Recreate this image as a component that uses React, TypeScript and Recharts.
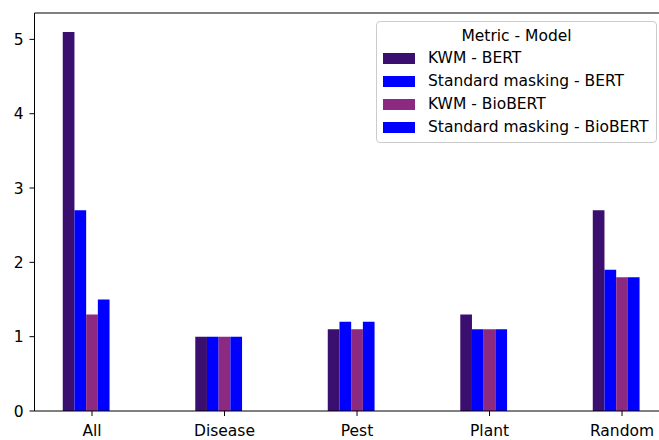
import React from 'react';
import { BarChart, Bar, XAxis, YAxis, ReferenceLine, Legend } from 'recharts';

const categories = ['All', 'Disease', 'Pest', 'Plant', 'Random'];
const kwmBert = [5.1, 1.0, 1.1, 1.3, 2.7];
const stdBert = [2.7, 1.0, 1.2, 1.1, 1.9];
const kwmBioBert = [1.3, 1.0, 1.1, 1.1, 1.8];
const stdBioBert = [1.5, 1.0, 1.2, 1.1, 1.8];
const seriesNames = ['KWM - BERT', 'Standard masking - BERT', 'KWM - BioBERT', 'Standard masking - BioBERT'];
const seriesColors = ['#3b0f70', '#0000ff', '#8c2981', '#0000ff'];
const yTicks = [0, 1, 2, 3, 4, 5];
const xTicks = [0, 1, 2, 3, 4];
const legendTitle = 'Metric - Model';

const data = categories.map((c, i) => ({
  x: i,
  name: c,
  s0: kwmBert[i],
  s1: stdBert[i],
  s2: kwmBioBert[i],
  s3: stdBioBert[i],
}));

const FONT = 'DejaVu Sans, sans-serif';
const FS = 15.5;

const LegendBox = () => (
  <div
    style={{
      position: 'relative',
      width: 281,
      height: 122,
      border: '1px solid #cccccc',
      borderRadius: 4,
      background: 'rgba(255,255,255,0.8)',
      boxSizing: 'border-box',
      fontFamily: FONT,
      fontSize: FS,
      color: '#000',
    }}
  >
    <div style={{ position: 'absolute', left: 0, right: 0, top: 4, height: 20, lineHeight: '20px', textAlign: 'center' }}>
      {legendTitle}
    </div>
    {seriesNames.map((n, i) => (
      <div key={n} style={{ position: 'absolute', left: 0, top: 26 + i * 23, height: 20, width: '100%' }}>
        <div style={{ position: 'absolute', left: 6, top: 4.5, width: 32, height: 11, background: seriesColors[i] }} />
        <div style={{ position: 'absolute', left: 51, top: 0, height: 20, lineHeight: '20px', whiteSpace: 'nowrap' }}>{n}</div>
      </div>
    ))}
  </div>
);

export default function App() {
  return (
    <div style={{ position: 'absolute', left: 0, top: 0, width: 659, height: 440, background: '#fff' }}>
      <BarChart
        width={659}
        height={440}
        data={data}
        margin={{ top: 13, right: 0, bottom: 0, left: 0 }}
        barGap={0}
        barSize={11.7}
      >
        <XAxis
          type="number"
          dataKey="x"
          domain={[-0.434, 4.279]}
          ticks={xTicks}
          interval={0}
          allowDataOverflow
          tickFormatter={(v: number) => categories[v]}
          height={29}
          tickSize={5}
          tickMargin={9}
          stroke="#000"
          tick={{ fill: '#000', fontFamily: FONT, fontSize: FS }}
          tickLine={{ stroke: '#000' }}
          axisLine={{ stroke: '#000' }}
        />
        <YAxis
          type="number"
          domain={[0, 5.355]}
          ticks={yTicks}
          allowDataOverflow
          width={34.5}
          tickSize={5}
          tickMargin={6}
          stroke="#000"
          tick={{ fill: '#000', fontFamily: FONT, fontSize: FS }}
          tickLine={{ stroke: '#000' }}
          axisLine={{ stroke: '#000' }}
        />
        <ReferenceLine y={5.355} stroke="#000" strokeWidth={1} ifOverflow="visible" />
        <Bar dataKey="s0" name={seriesNames[0]} fill={seriesColors[0]} isAnimationActive={false} />
        <Bar dataKey="s1" name={seriesNames[1]} fill={seriesColors[1]} isAnimationActive={false} />
        <Bar dataKey="s2" name={seriesNames[2]} fill={seriesColors[2]} isAnimationActive={false} />
        <Bar dataKey="s3" name={seriesNames[3]} fill={seriesColors[3]} isAnimationActive={false} />
        <Bar dataKey="pad" legendType="none" fill="none" isAnimationActive={false} />
        <Legend
          layout="horizontal"
          verticalAlign="middle"
          align="center"
          content={() => <LegendBox />}
          wrapperStyle={{ position: 'absolute', left: 376, top: 21, width: 281, height: 122 }}
        />
      </BarChart>
    </div>
  );
}
